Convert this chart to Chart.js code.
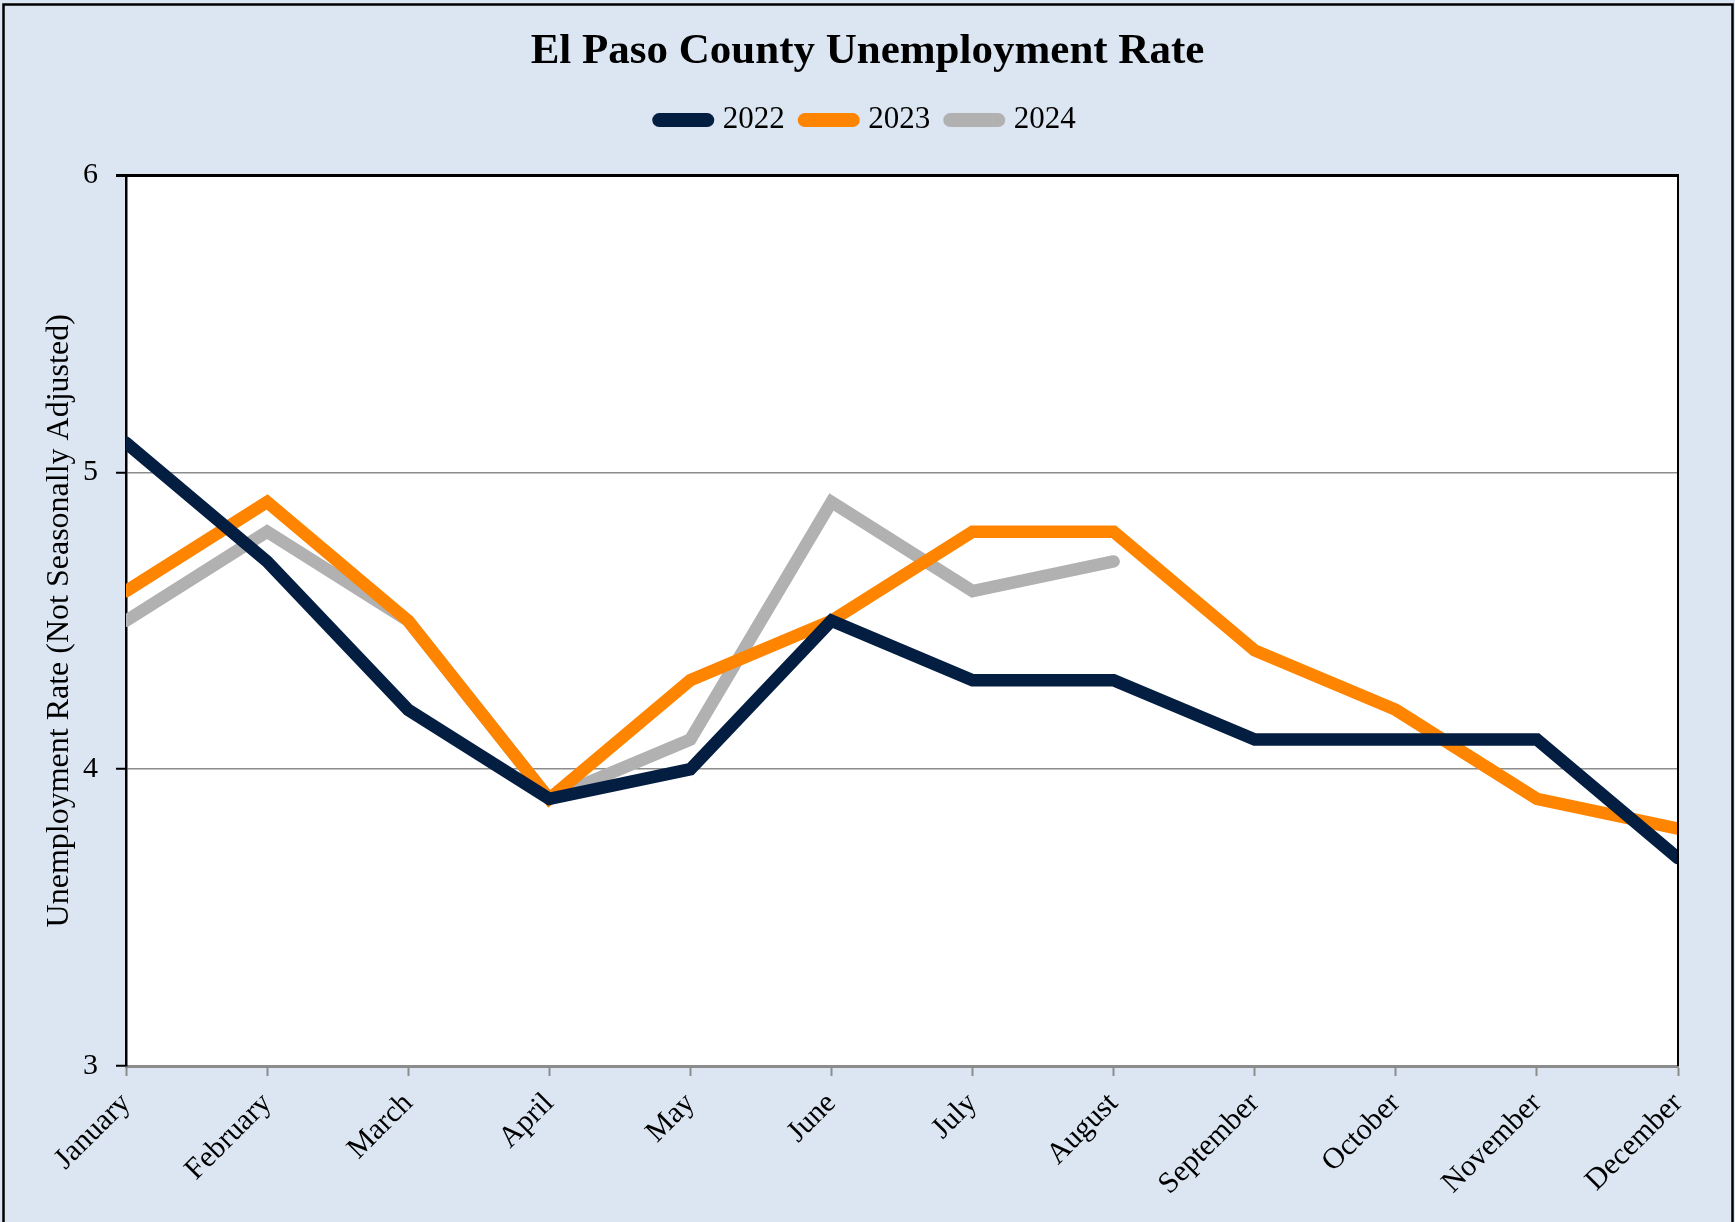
<!DOCTYPE html>
<html>
<head>
<meta charset="utf-8">
<script src="https://cdn.jsdelivr.net/npm/chart.js@4/dist/chart.umd.min.js"></script>
<style>
  html, body { margin: 0; padding: 0; background: #dce6f2; }
  #wrap { width: 1735px; height: 1222px; position: relative; }
  canvas { display: block; }
</style>
</head>
<body>
<div id="wrap"><canvas id="c" width="1735" height="1222"></canvas></div>
<script>
const months = ["January","February","March","April","May","June","July","August","September","October","November","December"];
const rate2022 = [5.1, 4.7, 4.2, 3.9, 4.0, 4.5, 4.3, 4.3, 4.1, 4.1, 4.1, 3.7];
const rate2023 = [4.6, 4.9, 4.5, 3.9, 4.3, 4.5, 4.8, 4.8, 4.4, 4.2, 3.9, 3.8];
const rate2024 = [4.5, 4.8, 4.5, 3.9, 4.1, 4.9, 4.6, 4.7];
const seriesNames = ["2022", "2023", "2024"];
const yMin = 3, yMax = 6, yStep = 1;

const chartTitle = "El Paso County Unemployment Rate";
const yTitle = "Unemployment Rate (Not Seasonally Adjusted)";
const FONT = "'Liberation Serif', 'Times New Roman', serif";

const frame = {
  id: 'frame',
  beforeLayout(chart) {
    const lg = chart.legend;
    if (lg && !lg._patched) {
      const orig = lg.fit;
      lg.fit = function () { orig.call(this); this.height += 30; };
      lg._patched = true;
    }
  },
  beforeDraw(chart) {
    const ctx = chart.ctx, a = chart.chartArea;
    ctx.save();
    ctx.fillStyle = '#dce6f2';
    ctx.fillRect(0, 0, chart.width, chart.height);
    ctx.strokeStyle = '#000';
    ctx.lineWidth = 2.5;
    ctx.strokeRect(3.5, 4.5, chart.width - 6, chart.height + 20);
    ctx.fillStyle = '#ffffff';
    ctx.fillRect(a.left, a.top, a.right - a.left, a.bottom - a.top);
    ctx.restore();
  },
  afterDraw(chart) {
    const ctx = chart.ctx, a = chart.chartArea;
    ctx.save();
    ctx.strokeStyle = '#000';
    ctx.lineWidth = 3;
    ctx.beginPath();
    ctx.moveTo(a.left - 10, a.top);
    ctx.lineTo(a.right + 1, a.top);
    ctx.stroke();
    ctx.lineWidth = 2;
    ctx.beginPath();
    ctx.moveTo(a.right, a.top);
    ctx.lineTo(a.right, a.bottom);
    ctx.stroke();
    ctx.restore();
  }
};

const colors = ['#041e42', '#ff8500', '#b0b1b0'];
const datasets = [rate2022, rate2023, rate2024].map((d, i) => ({
  label: seriesNames[i],
  data: d,
  borderColor: colors[i],
  backgroundColor: colors[i],
  borderWidth: 12.5,
  pointRadius: 0,
  pointHoverRadius: 0,
  tension: 0,
  borderCapStyle: 'round',
  borderJoinStyle: 'miter',
  clip: 0,
  fill: false
}));

new Chart(document.getElementById('c'), {
  type: 'line',
  data: { labels: months, datasets: datasets },
  options: {
    responsive: false,
    animation: false,
    devicePixelRatio: 1,
    layout: { padding: { top: 0, left: 0, right: 0, bottom: 0 } },
    plugins: {
      tooltip: { enabled: false },
      title: {
        display: true,
        text: chartTitle,
        color: '#000',
        font: { family: FONT, size: 43, weight: 'bold' },
        padding: { top: 26, bottom: 7 }
      },
      legend: {
        display: true,
        position: 'top',
        labels: {
          color: '#000',
          font: { family: FONT, size: 31 },
          usePointStyle: true,
          pointStyleWidth: 48,
          padding: 20,
          generateLabels(chart) {
            return chart.data.datasets.map((ds, i) => ({
              text: ds.label,
              fillStyle: ds.borderColor,
              strokeStyle: ds.borderColor,
              lineWidth: 14,
              lineCap: 'round',
              pointStyle: 'line',
              hidden: false,
              datasetIndex: i,
              fontColor: '#000'
            }));
          }
        }
      }
    },
    scales: {
      x: {
        offset: false,
        border: { display: true, color: '#8c8c8c', width: 3 },
        grid: {
          display: true,
          drawOnChartArea: false,
          drawTicks: true,
          tickLength: 10,
          tickColor: '#8c8c8c',
          tickWidth: 2
        },
        ticks: {
          color: '#000',
          font: { family: FONT, size: 30 },
          minRotation: 45,
          maxRotation: 45,
          padding: 10,
          autoSkip: false
        },
        afterFit(scale) { scale.height = 156; }
      },
      y: {
        min: yMin,
        max: yMax,
        border: { display: true, color: '#000', width: 2.5 },
        grid: {
          display: true,
          drawOnChartArea: true,
          drawTicks: true,
          tickLength: 10,
          color: (c) => (c.tick && c.tick.value === yMax) ? '#000' : '#8c8c8c',
          lineWidth: (c) => (c.tick && c.tick.value === yMax) ? 3 : 1.5,
          tickColor: '#000',
          tickWidth: 2
        },
        ticks: {
          stepSize: yStep,
          color: '#000',
          font: { family: FONT, size: 30 },
          padding: 18
        },
        title: {
          display: true,
          text: yTitle,
          color: '#000',
          font: { family: FONT, size: 32 },
          padding: { top: 40, bottom: 0 }
        },
        afterFit(scale) { scale.width = 126; }
      },
      yRight: {
        position: 'right',
        display: true,
        min: yMin,
        max: yMax,
        grid: { display: false, drawTicks: false },
        border: { display: false },
        ticks: { display: false },
        afterFit(scale) { scale.width = 57; }
      }
    }
  },
  plugins: [frame]
});
</script>
</body>
</html>
